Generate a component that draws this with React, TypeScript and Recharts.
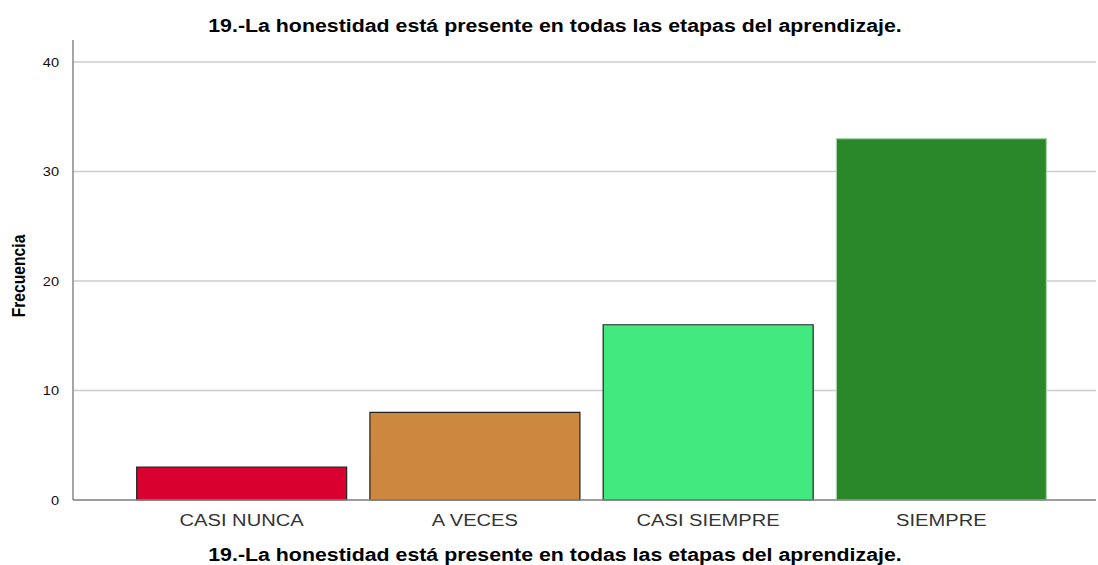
import React from "react";
import { BarChart, Bar, XAxis, YAxis, Cell, CartesianGrid } from "recharts";

const categories = ["CASI NUNCA", "A VECES", "CASI SIEMPRE", "SIEMPRE"];
const frecuencias = [3, 8, 16, 33];
const barColors = ["#D9002F", "#CD8840", "#42E97E", "#2A882A"];
const barStrokes = ["#222222", "#222222", "#222222", "#a9d4a9"];
const yTicks = [0, 10, 20, 30, 40];
const title = "19.-La honestidad está presente en todas las etapas del aprendizaje.";
const yLabel = "Frecuencia";

const data = categories.map((c, i) => ({ name: c, value: frecuencias[i] }));
const FONT = "Arial, 'Liberation Sans', sans-serif";

const XTick = (props: any) => {
  const { x, y, payload } = props;
  return (
    <g transform={`translate(${x},${y + 6}) scale(1.22,1)`}>
      <text x={0} y={0} dy={12} textAnchor="middle" fill="#333" fontSize={16.5} fontFamily={FONT}>
        {payload.value}
      </text>
    </g>
  );
};

const YTick = (props: any) => {
  const { x, y, payload } = props;
  return (
    <g transform={`translate(${x - 6},${y}) scale(1.08,1)`}>
      <text x={0} y={0} dy={5} textAnchor="end" fill="#111" fontSize={13.5} fontFamily={FONT}>
        {payload.value}
      </text>
    </g>
  );
};

const titleStyle: React.CSSProperties = {
  position: "absolute",
  left: 555,
  width: 800,
  marginLeft: -400,
  textAlign: "center",
  fontWeight: "bold",
  fontSize: 18,
  lineHeight: "20px",
  color: "#000",
  fontFamily: FONT,
  transform: "scaleX(1.185)",
  whiteSpace: "nowrap",
};

export default function App() {
  return (
    <div style={{ position: "absolute", left: 0, top: 0, width: 1098, height: 565, background: "#fff", fontFamily: FONT, overflow: "hidden" }}>
      <BarChart width={1098} height={565} data={data} margin={{ top: 40, right: 2, bottom: 35, left: 13 }} barCategoryGap="5%">
        <CartesianGrid vertical={false} stroke="#cccccc" strokeWidth={1.5} horizontalValues={yTicks} />
        <XAxis
          dataKey="name"
          tickLine={false}
          axisLine={{ stroke: "#888888", strokeWidth: 1.5 }}
          tick={<XTick />}
          padding={{ left: 52, right: 38 }}
          height={30}
          interval={0}
        />
        <YAxis
          domain={[0, 42]}
          ticks={yTicks}
          tickLine={false}
          axisLine={{ stroke: "#888888", strokeWidth: 1.5 }}
          tick={<YTick />}
          width={60}
        />
        <Bar dataKey="value" isAnimationActive={false} strokeWidth={1.2}>
          {data.map((d, i) => (
            <Cell key={d.name} fill={barColors[i]} stroke={barStrokes[i]} />
          ))}
        </Bar>
      </BarChart>
      <div style={{ position: "absolute", left: 75, top: 37, width: 1030, height: 6, background: "#fff" }} />
      <div style={{ ...titleStyle, top: 16 }}>{title}</div>
      <div style={{ ...titleStyle, top: 545 }}>{title}</div>
      <div
        style={{
          position: "absolute",
          left: 19,
          top: 276,
          width: 200,
          marginLeft: -100,
          marginTop: -10,
          lineHeight: "20px",
          textAlign: "center",
          fontWeight: "bold",
          fontSize: 18,
          color: "#000",
          fontFamily: FONT,
          transform: "rotate(-90deg) scaleX(0.87)",
          whiteSpace: "nowrap",
        }}
      >
        {yLabel}
      </div>
    </div>
  );
}
